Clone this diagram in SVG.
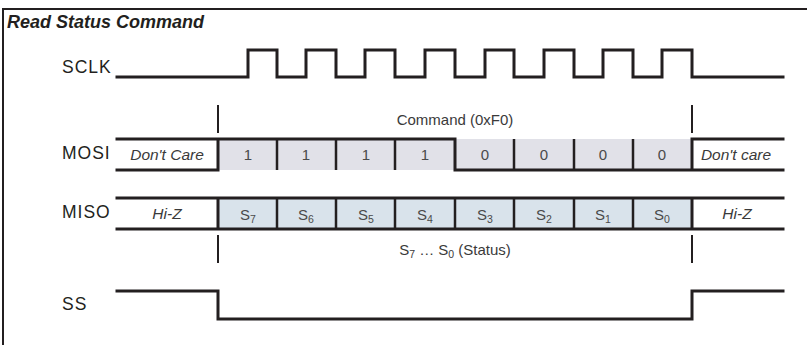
<svg xmlns="http://www.w3.org/2000/svg" width="807" height="345" viewBox="0 0 807 345">
<defs>
<style>
.frame{fill:none;stroke:#231f20;stroke-width:2}
.sig{fill:none;stroke:#231f20;stroke-width:3;stroke-linejoin:miter;stroke-linecap:square}
.div{stroke:#231f20;stroke-width:2.5}
.mark{stroke:#231f20;stroke-width:2}
.lbl{font-family:"Liberation Sans",Arial,sans-serif;font-size:17.5px;fill:#231f20;letter-spacing:1px}
.title{font-family:"Liberation Sans",Arial,sans-serif;font-size:18px;font-weight:bold;font-style:italic;fill:#231f20}
.cell{font-family:"Liberation Sans",Arial,sans-serif;font-size:15px;fill:#4a4a4a;text-anchor:middle}
.it{font-family:"Liberation Sans",Arial,sans-serif;font-size:15.5px;font-style:italic;fill:#3a3a3a;text-anchor:middle}
.ann{font-family:"Liberation Sans",Arial,sans-serif;font-size:15px;fill:#3a3a3a;text-anchor:middle}
.sub{font-size:10.5px}
.mosifill{fill:#e1e1e8}
.misofill{fill:#d9e3eb}
</style>
</defs>
<g id="frame">
<path class="frame" d="M3,345 V9 H807"/>
<text class="title" x="7" y="28">Read Status Command</text>
</g>
<g id="sclk">
<text class="lbl" x="62" y="73">SCLK</text>
<path class="sig" d="M117,77 H248 V50 H277 V77 H306 V50 H336 V77 H365 V50 H395 V77 H425 V50 H455 V77 H485 V50 H514 V77 H544 V50 H574 V77 H603 V50 H633 V77 H662 V50 H692 V77 H783"/>
</g>
<g id="mosi">
<text class="lbl" x="62" y="159">MOSI</text>
<rect class="mosifill" x="218" y="139" width="474" height="31"/>
<path class="sig" d="M117,139 H218 M117,170 H218 V139 H455 V170 H692 V139 H783 M692,170 H783"/>
<line class="div" x1="277" y1="139" x2="277" y2="170"/>
<line class="div" x1="336" y1="139" x2="336" y2="170"/>
<line class="div" x1="395" y1="139" x2="395" y2="170"/>
<line class="div" x1="514" y1="139" x2="514" y2="170"/>
<line class="div" x1="574" y1="139" x2="574" y2="170"/>
<line class="div" x1="633" y1="139" x2="633" y2="170"/>
<text class="it" x="167" y="160">Don't Care</text>
<text class="cell" x="248" y="160">1</text>
<text class="cell" x="306" y="160">1</text>
<text class="cell" x="366" y="160">1</text>
<text class="cell" x="425" y="160">1</text>
<text class="cell" x="485" y="160">0</text>
<text class="cell" x="544" y="160">0</text>
<text class="cell" x="603" y="160">0</text>
<text class="cell" x="662" y="160">0</text>
<text class="it" x="736" y="160">Don't care</text>
</g>
<g id="command">
<line class="mark" x1="218" y1="105" x2="218" y2="133"/>
<line class="mark" x1="692" y1="105" x2="692" y2="133"/>
<text class="ann" x="455" y="125">Command (0xF0)</text>
</g>
<g id="miso">
<text class="lbl" x="62" y="218">MISO</text>
<rect class="misofill" x="218" y="198" width="474" height="31"/>
<path class="sig" d="M117,198 H218 M117,229 H218 M218,198 H692 V229 H218 Z M692,198 H783 M692,229 H783"/>
<line class="div" x1="277" y1="198" x2="277" y2="229"/>
<line class="div" x1="336" y1="198" x2="336" y2="229"/>
<line class="div" x1="395" y1="198" x2="395" y2="229"/>
<line class="div" x1="455" y1="198" x2="455" y2="229"/>
<line class="div" x1="514" y1="198" x2="514" y2="229"/>
<line class="div" x1="574" y1="198" x2="574" y2="229"/>
<line class="div" x1="633" y1="198" x2="633" y2="229"/>
<text class="it" x="167" y="219">Hi-Z</text>
<text class="cell" x="248" y="220">S<tspan class="sub" dy="3">7</tspan></text>
<text class="cell" x="306" y="220">S<tspan class="sub" dy="3">6</tspan></text>
<text class="cell" x="366" y="220">S<tspan class="sub" dy="3">5</tspan></text>
<text class="cell" x="425" y="220">S<tspan class="sub" dy="3">4</tspan></text>
<text class="cell" x="485" y="220">S<tspan class="sub" dy="3">3</tspan></text>
<text class="cell" x="544" y="220">S<tspan class="sub" dy="3">2</tspan></text>
<text class="cell" x="603" y="220">S<tspan class="sub" dy="3">1</tspan></text>
<text class="cell" x="662" y="220">S<tspan class="sub" dy="3">0</tspan></text>
<text class="it" x="737" y="219">Hi-Z</text>
</g>
<g id="status">
<line class="mark" x1="218" y1="235" x2="218" y2="263"/>
<line class="mark" x1="692" y1="235" x2="692" y2="263"/>
<text class="ann" x="455" y="255">S<tspan class="sub" dy="3">7</tspan><tspan dy="-3"> … S</tspan><tspan class="sub" dy="3">0</tspan><tspan dy="-3"> (Status)</tspan></text>
</g>
<g id="ss">
<text class="lbl" x="62" y="310">SS</text>
<path class="sig" d="M117,291 H218 V319 H692 V291 H783"/>
</g>
</svg>
